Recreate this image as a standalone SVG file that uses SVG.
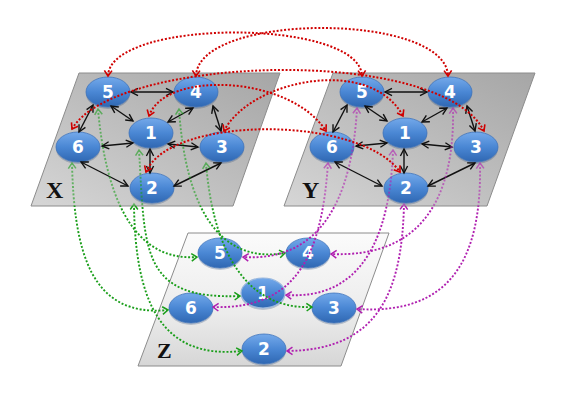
<svg xmlns="http://www.w3.org/2000/svg" xmlns:xlink="http://www.w3.org/1999/xlink" width="576" height="407" viewBox="0 0 576 407">
<defs>
<linearGradient id="gPlane" x1="1" y1="0" x2="0" y2="1">
<stop offset="0" stop-color="#a6a6a6"/>
<stop offset="0.6" stop-color="#c2c2c2"/>
<stop offset="1" stop-color="#d6d6d6"/>
</linearGradient>
<linearGradient id="gZ" x1="0" y1="0" x2="0" y2="1">
<stop offset="0" stop-color="#fbfbfb"/>
<stop offset="0.6" stop-color="#ececec"/>
<stop offset="1" stop-color="#d6d6d6"/>
</linearGradient>
<linearGradient id="gNode" x1="0" y1="0" x2="0" y2="1">
<stop offset="0" stop-color="#74a9ea"/>
<stop offset="0.5" stop-color="#4a87d4"/>
<stop offset="1" stop-color="#2f67b2"/>
</linearGradient>
<mask id="fade" maskUnits="userSpaceOnUse" x="0" y="0" width="576" height="407">
<rect x="0" y="0" width="576" height="407" fill="#fff"/>
<polygon points="79,73 280,73 233,206 31,206" fill="#999"/>
<polygon points="333,73 535,73 487,206 284,206" fill="#999"/>
</mask>
<marker id="mB" markerUnits="userSpaceOnUse" markerWidth="10" markerHeight="10" orient="auto-start-reverse" overflow="visible">
<path d="M-7,-3.6 L0,0 L-7,3.6" fill="none" stroke="#111" stroke-width="1.4"/>
</marker>
<marker id="mR" markerUnits="userSpaceOnUse" markerWidth="10" markerHeight="10" orient="auto-start-reverse" overflow="visible">
<path d="M-5.5,-3.8 L0,0 L-5.5,3.8" fill="none" stroke="#d00000" stroke-width="1.6"/>
</marker>
<marker id="mG" markerUnits="userSpaceOnUse" markerWidth="10" markerHeight="10" orient="auto-start-reverse" overflow="visible">
<path d="M-5.5,-3.8 L0,0 L-5.5,3.8" fill="none" stroke="#1a9e1a" stroke-width="1.5"/>
</marker>
<marker id="mP" markerUnits="userSpaceOnUse" markerWidth="10" markerHeight="10" orient="auto-start-reverse" overflow="visible">
<path d="M-5.5,-3.8 L0,0 L-5.5,3.8" fill="none" stroke="#b020b0" stroke-width="1.5"/>
</marker>
</defs>
<style>
.plane{fill:url(#gPlane);stroke:#8c8c8c;stroke-width:1}
.planeZ{fill:url(#gZ);stroke:#8c8c8c;stroke-width:1}
.lab{font-family:"Liberation Serif",serif;font-weight:bold;font-size:24px;fill:#111}
.node ellipse.b{fill:url(#gNode);stroke:#3f74bb;stroke-width:0.8}
.node ellipse.s{fill:#1f3f70;opacity:0.25}
.node text{font-family:"DejaVu Sans",sans-serif;font-weight:bold;font-size:17px;fill:#fff;text-anchor:middle}
.blk{fill:none;stroke:#111;stroke-width:1.4;marker-start:url(#mB);marker-end:url(#mB)}
.red{fill:none;stroke:#d00000;stroke-width:2;stroke-dasharray:2 1.8;marker-start:url(#mR);marker-end:url(#mR)}
.grn{fill:none;stroke:#1a9e1a;stroke-width:1.9;stroke-dasharray:2 1.8;marker-start:url(#mG);marker-end:url(#mG)}
.pur{fill:none;stroke:#b020b0;stroke-width:1.9;stroke-dasharray:2 1.8;marker-start:url(#mP);marker-end:url(#mP)}
</style>

<g id="planeX">
<polygon class="plane" points="79,73 280,73 233,206 31,206"/>
<text class="lab" x="46" y="198">X</text>
</g>
<g id="planeY">
<polygon class="plane" points="333,73 535,73 487,206 284,206"/>
<text class="lab" x="302" y="198">Y</text>
</g>
<g id="planeZ">
<polygon class="planeZ" points="188,233 389,233 341,366 138,366"/>
<text class="lab" x="157" y="358" style="font-size:22px">Z</text>
</g>

<g id="nodesX">
<g id="X5" class="node"><ellipse class="s" cx="108" cy="94" rx="22" ry="15"/><ellipse class="b" cx="108" cy="92" rx="22" ry="15"/><text x="108" y="98">5</text></g>
<g id="X4" class="node"><ellipse class="s" cx="196" cy="94" rx="22" ry="15"/><ellipse class="b" cx="196" cy="92" rx="22" ry="15"/><text x="196" y="98">4</text></g>
<g id="X1" class="node"><ellipse class="s" cx="151" cy="135" rx="22" ry="15"/><ellipse class="b" cx="151" cy="133" rx="22" ry="15"/><text x="151" y="139">1</text></g>
<g id="X6" class="node"><ellipse class="s" cx="78" cy="149" rx="22" ry="15"/><ellipse class="b" cx="78" cy="147" rx="22" ry="15"/><text x="78" y="153">6</text></g>
<g id="X3" class="node"><ellipse class="s" cx="222" cy="149" rx="22" ry="15"/><ellipse class="b" cx="222" cy="147" rx="22" ry="15"/><text x="222" y="153">3</text></g>
<g id="X2" class="node"><ellipse class="s" cx="152" cy="190" rx="22" ry="15"/><ellipse class="b" cx="152" cy="188" rx="22" ry="15"/><text x="152" y="194">2</text></g>
</g>
<g id="nodesY">
<g id="Y5" class="node"><ellipse class="s" cx="362" cy="94" rx="22" ry="15"/><ellipse class="b" cx="362" cy="92" rx="22" ry="15"/><text x="362" y="98">5</text></g>
<g id="Y4" class="node"><ellipse class="s" cx="450" cy="94" rx="22" ry="15"/><ellipse class="b" cx="450" cy="92" rx="22" ry="15"/><text x="450" y="98">4</text></g>
<g id="Y1" class="node"><ellipse class="s" cx="405" cy="135" rx="22" ry="15"/><ellipse class="b" cx="405" cy="133" rx="22" ry="15"/><text x="405" y="139">1</text></g>
<g id="Y6" class="node"><ellipse class="s" cx="332" cy="149" rx="22" ry="15"/><ellipse class="b" cx="332" cy="147" rx="22" ry="15"/><text x="332" y="153">6</text></g>
<g id="Y3" class="node"><ellipse class="s" cx="476" cy="149" rx="22" ry="15"/><ellipse class="b" cx="476" cy="147" rx="22" ry="15"/><text x="476" y="153">3</text></g>
<g id="Y2" class="node"><ellipse class="s" cx="406" cy="190" rx="22" ry="15"/><ellipse class="b" cx="406" cy="188" rx="22" ry="15"/><text x="406" y="194">2</text></g>
</g>
<g id="nodesZ">
<g id="Z5" class="node"><ellipse class="s" cx="220" cy="255" rx="22" ry="15"/><ellipse class="b" cx="220" cy="253" rx="22" ry="15"/><text x="220" y="259">5</text></g>
<g id="Z4" class="node"><ellipse class="s" cx="308" cy="255" rx="22" ry="15"/><ellipse class="b" cx="308" cy="253" rx="22" ry="15"/><text x="308" y="259">4</text></g>
<g id="Z1" class="node"><ellipse class="s" cx="263" cy="295" rx="22" ry="15"/><ellipse class="b" cx="263" cy="293" rx="22" ry="15" style="stroke:#9ab8de;stroke-width:1.2"/><text x="263" y="299">1</text></g>
<g id="Z6" class="node"><ellipse class="s" cx="191" cy="310" rx="22" ry="15"/><ellipse class="b" cx="191" cy="308" rx="22" ry="15"/><text x="191" y="314">6</text></g>
<g id="Z3" class="node"><ellipse class="s" cx="334" cy="310" rx="22" ry="15"/><ellipse class="b" cx="334" cy="308" rx="22" ry="15"/><text x="334" y="314">3</text></g>
<g id="Z2" class="node"><ellipse class="s" cx="264" cy="351" rx="22" ry="15"/><ellipse class="b" cx="264" cy="349" rx="22" ry="15"/><text x="264" y="355">2</text></g>
</g>

<g id="connectors">
<g id="edges-black">
<g id="edgesX">
<path class="blk" d="M131,92 L173,92"/>
<path class="blk" d="M111,106 L133,121"/>
<path class="blk" d="M193,108 L168,122"/>
<path class="blk" d="M93,105 L79,132"/>
<path class="blk" d="M213,106 L221,131"/>
<path class="blk" d="M102,146 L133,143"/>
<path class="blk" d="M168,144 L198,147"/>
<path class="blk" d="M150,149 L150,173"/>
<path class="blk" d="M81,162 L128,186"/>
<path class="blk" d="M174,186 L221,163"/>
</g>
<use id="edgesY" xlink:href="#edgesX" href="#edgesX" transform="translate(254,0)"/>
</g>
<g id="green" mask="url(#fade)">
<path class="grn" d="M98,109 C105,190 130,262 197,257"/>
<path class="grn" d="M179,109 C185,200 215,265 285,253"/>
<path class="grn" d="M139,150 C145,250 140,300 240,296"/>
<path class="grn" d="M72,163 C74,250 90,318 168,310"/>
<path class="grn" d="M206,163 C212,240 240,310 312,307"/>
<path class="grn" d="M134,204 C135,300 160,360 242,351"/>
</g>
<g id="purple" mask="url(#fade)">
<path class="pur" d="M357,108 C352,200 320,262 243,257"/>
<path class="pur" d="M453,108 C455,200 420,258 331,254"/>
<path class="pur" d="M393,150 C390,240 360,300 286,295"/>
<path class="pur" d="M328,163 C322,250 300,310 213,307"/>
<path class="pur" d="M480,163 C482,260 450,315 357,309"/>
<path class="pur" d="M404,204 C402,290 380,350 287,351"/>
</g>
<g id="red">
<path class="red" d="M108,76 C110,18 360,18 362,76"/>
<path class="red" d="M196,76 C198,12 446,12 448,76"/>
<path class="red" d="M149,116 C165,70 290,75 326,131"/>
<path class="red" d="M72,129 C115,55 440,45 484,131"/>
<path class="red" d="M224,131 C250,80 370,55 403,116"/>
<path class="red" d="M146,172 C170,115 360,115 400,172"/>
</g>
</g>
</svg>
